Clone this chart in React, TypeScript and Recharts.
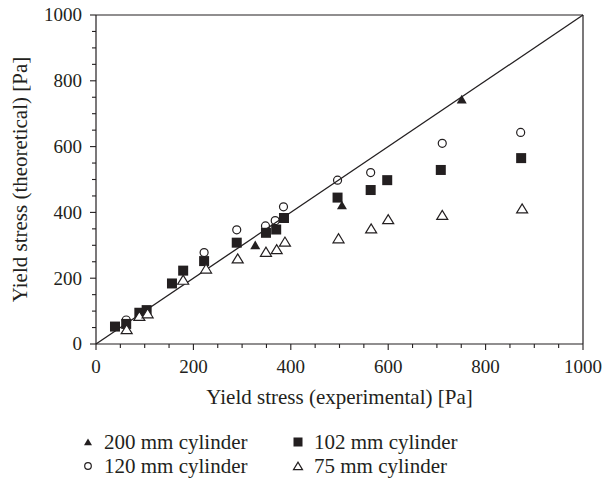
import React from "react";
import {
  ScatterChart,
  Scatter,
  XAxis,
  YAxis,
  ReferenceLine,
} from "recharts";

// ---- data ----
const cyl200X = [327, 505, 751];
const cyl200Y = [301, 422, 744];

const cyl120X = [62, 222, 289, 348, 368, 385, 496, 564, 711, 872];
const cyl120Y = [73, 278, 347, 359, 375, 417, 498, 521, 610, 643];

const cyl102X = [39, 62, 89, 104, 156, 179, 222, 289, 349, 370, 386, 496, 564, 598, 708, 873];
const cyl102Y = [53, 61, 95, 103, 184, 223, 252, 308, 338, 348, 383, 445, 468, 498, 529, 565];

const cyl75X = [63, 89, 106, 179, 226, 291, 349, 371, 388, 498, 565, 600, 711, 875];
const cyl75Y = [45, 85, 93, 195, 229, 260, 280, 288, 311, 321, 351, 379, 392, 412];

const axisTicks = [
  0, 50, 100, 150, 200, 250, 300, 350, 400, 450, 500, 550, 600, 650, 700, 750, 800, 850, 900, 950, 1000,
];
const majorStep = 200;

const seriesNames = ["200 mm cylinder", "102 mm cylinder", "120 mm cylinder", "75 mm cylinder"];
const xTitle = "Yield stress (experimental) [Pa]";
const yTitle = "Yield stress (theoretical) [Pa]";

const zip = (xs: number[], ys: number[]) => xs.map((x, i) => ({ x, y: ys[i] }));

const INK = "#231f20";
const FONT = "'Liberation Serif', 'Times New Roman', serif";
const FS = 19;
const FS_TITLE = 21;

// ---- markers ----
const FilledTri = ({ cx, cy, s = 10 }: any) => (
  <polygon
    points={`${cx - s / 2},${cy + s * 0.42} ${cx + s / 2},${cy + s * 0.42} ${cx},${cy - s * 0.45}`}
    fill={INK}
  />
);
const OpenTri = ({ cx, cy, s = 11 }: any) => (
  <polygon
    points={`${cx - s / 2},${cy + s * 0.4} ${cx + s / 2},${cy + s * 0.4} ${cx},${cy - s * 0.42}`}
    fill="#fff"
    stroke={INK}
    strokeWidth={1.2}
  />
);
const Sq = ({ cx, cy, s = 10 }: any) => (
  <rect x={cx - s / 2} y={cy - s / 2} width={s} height={s} fill={INK} />
);
const Circ = ({ cx, cy, r = 4 }: any) => (
  <circle cx={cx} cy={cy} r={r} fill="none" stroke={INK} strokeWidth={1.2} />
);

// ---- ticks ----
const XTick = (props: any) => {
  const { x, y, payload } = props;
  const v = payload.value;
  const major = v % majorStep === 0;
  return (
    <g>
      <line x1={x} x2={x} y1={y} y2={y + (major ? 6 : 4)} stroke={INK} strokeWidth={1.1} />
      {major && (
        <text x={x} y={y + 29} textAnchor="middle" fill={INK} fontSize={FS} fontFamily={FONT}>
          {v}
        </text>
      )}
    </g>
  );
};
const YTick = (props: any) => {
  const { x, y, payload } = props;
  const v = payload.value;
  const major = v % majorStep === 0;
  return (
    <g>
      <line x1={x} x2={x - (major ? 6 : 4)} y1={y} y2={y} stroke={INK} strokeWidth={1.1} />
      {major && (
        <text x={x - 14} y={y} dy="0.34em" textAnchor="end" fill={INK} fontSize={FS} fontFamily={FONT}>
          {v}
        </text>
      )}
    </g>
  );
};

const LegendOverlay = () => {
  const rows = [
    { x: 88, y: 442, name: seriesNames[0], m: <FilledTri cx={88} cy={442} s={8} /> },
    { x: 298, y: 442, name: seriesNames[1], m: <Sq cx={298} cy={442} s={9} /> },
    { x: 88, y: 466, name: seriesNames[2], m: <Circ cx={88} cy={466} r={3.3} /> },
    { x: 298, y: 466, name: seriesNames[3], m: <OpenTri cx={298} cy={466} s={9} /> },
  ];
  return (
    <svg width={605} height={479} style={{ position: "absolute", left: 0, top: 0, pointerEvents: "none" }}>
      {rows.map((r, i) => (
        <g key={i}>
          {r.m}
          <text x={r.x + 16} y={r.y} dy="0.34em" fill={INK} fontSize={FS_TITLE} fontFamily={FONT}>
            {r.name}
          </text>
        </g>
      ))}
    </svg>
  );
};

export default function App() {
  return (
    <div style={{ position: "absolute", left: 0, top: 0, width: 605, height: 479, background: "#fff" }}>
      <ScatterChart width={605} height={479} margin={{ top: 15, right: 22, bottom: 75, left: 0 }}>
        <XAxis
          type="number"
          dataKey="x"
          domain={[0, 1000]}
          ticks={axisTicks}
          interval={0}
          tickSize={0}
          tickMargin={0}
          tickLine={false}
          tick={<XTick />}
          height={60}
          axisLine={{ stroke: INK, strokeWidth: 1.2 }}
          label={{
            value: xTitle,
            position: "insideBottom",
            offset: 0,
            fill: INK,
            fontSize: FS_TITLE,
            fontFamily: FONT,
          }}
        />
        <YAxis
          type="number"
          dataKey="y"
          domain={[0, 1000]}
          ticks={axisTicks}
          interval={0}
          tickSize={0}
          tickMargin={0}
          tickLine={false}
          tick={<YTick />}
          width={96}
          axisLine={{ stroke: INK, strokeWidth: 1.2 }}
          label={{
            value: yTitle,
            angle: -90,
            position: "insideLeft",
            offset: 20,
            fill: INK,
            fontSize: FS_TITLE,
            fontFamily: FONT,
            style: { textAnchor: "middle" },
          }}
        />
        <ReferenceLine y={1000} stroke={INK} strokeWidth={1.2} ifOverflow="extendDomain" />
        <ReferenceLine x={1000} stroke={INK} strokeWidth={1.2} ifOverflow="extendDomain" />
        <ReferenceLine
          segment={[
            { x: 0, y: 0 },
            { x: 1000, y: 1000 },
          ]}
          stroke={INK}
          strokeWidth={1.3}
        />
        <Scatter
          name={seriesNames[2]}
          data={zip(cyl120X, cyl120Y)}
          isAnimationActive={false}
          shape={(p: any) => <Circ cx={p.cx} cy={p.cy} />}
        />
        <Scatter
          name={seriesNames[1]}
          data={zip(cyl102X, cyl102Y)}
          isAnimationActive={false}
          shape={(p: any) => <Sq cx={p.cx} cy={p.cy} />}
        />
        <Scatter
          name={seriesNames[3]}
          data={zip(cyl75X, cyl75Y)}
          isAnimationActive={false}
          shape={(p: any) => <OpenTri cx={p.cx} cy={p.cy} />}
        />
        <Scatter
          name={seriesNames[0]}
          data={zip(cyl200X, cyl200Y)}
          isAnimationActive={false}
          shape={(p: any) => <FilledTri cx={p.cx} cy={p.cy} />}
        />
      </ScatterChart>
      <LegendOverlay />
    </div>
  );
}
